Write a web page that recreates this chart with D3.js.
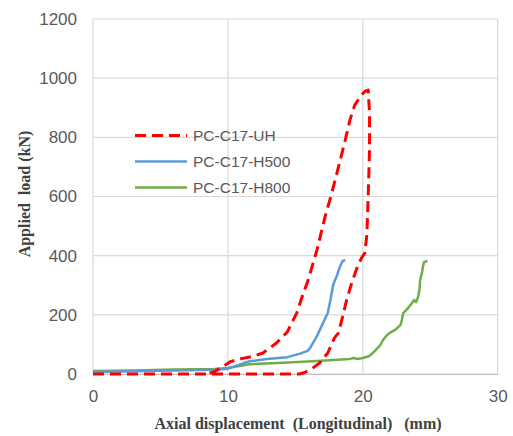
<!DOCTYPE html>
<html><head><meta charset="utf-8">
<script src="https://cdn.jsdelivr.net/npm/d3@7"></script>
<style>html,body{margin:0;padding:0;background:#fff}</style>
</head><body>
<svg id="c" width="513" height="436"></svg>
<script>
const xTicks = [0, 10, 20, 30];
const yTicks = [0, 200, 400, 600, 800, 1000, 1200];
const seriesNames = ["PC-C17-UH", "PC-C17-H500", "PC-C17-H800"];

const uhDisp = [0, 4, 8, 12, 15.3, 15.7, 16.1, 16.8, 17.4, 17.9, 18.2, 18.5, 18.8, 19.2, 19.6, 19.9, 20.15, 20.3, 20.4, 20.5, 20.5, 20.4, 20.15, 19.9, 19.4, 19.05, 18.7, 18.2, 17.7, 17.2, 16.6, 16.1, 15.9, 15.6, 15.1, 14.4, 13.6, 12.6, 11.9, 11.0, 10.2, 9.6, 9.0, 8.6];
const uhLoad = [0, 0, 0, 0, 0, 5, 14, 37, 71, 122, 139, 193, 250, 311, 362, 392, 409, 470, 600, 760, 882, 960, 955, 943, 909, 859, 791, 700, 612, 531, 419, 341, 311, 274, 206, 142, 105, 71, 60, 52, 42, 24, 8, 2];

const h500Disp = [0, 3, 6, 9, 10, 11.6, 12.9, 14.4, 15.3, 15.9, 16.1, 16.6, 17.05, 17.4, 17.6, 17.8, 18.1, 18.3, 18.5, 18.7];
const h500Load = [7, 9, 12, 14, 18, 43, 51, 57, 68, 78, 88, 128, 172, 206, 250, 301, 335, 362, 382, 385];

const h800Disp = [0, 3, 6, 9, 10, 11.6, 14.1, 16.6, 19.05, 19.3, 19.6, 20.0, 20.5, 20.9, 21.3, 21.5, 21.8, 22.0, 22.4, 22.8, 22.9, 23.0, 23.35, 23.65, 23.8, 23.95, 24.1, 24.2, 24.25, 24.4, 24.45, 24.55, 24.8];
const h800Load = [10, 12, 15, 17, 20, 33, 38, 44, 51, 54, 51, 54, 61, 78, 98, 115, 132, 139, 149, 166, 183, 206, 223, 240, 250, 243, 260, 284, 318, 345, 362, 379, 382];

const svg = d3.select("#c");
const x = d3.scaleLinear().domain([0, 30]).range([93, 497.7]);
const y = d3.scaleLinear().domain([0, 1200]).range([374, 19]);
const grid = "#d9d9d9", txt = "#595959";

// grid
svg.append("g").selectAll("line").data(yTicks).join("line")
  .attr("x1", x(0)).attr("x2", x(30)).attr("y1", d => y(d)).attr("y2", d => y(d))
  .attr("stroke", grid).attr("stroke-width", 1.2);
svg.append("g").selectAll("line").data(xTicks).join("line")
  .attr("y1", y(0)).attr("y2", y(1200)).attr("x1", d => x(d)).attr("x2", d => x(d))
  .attr("stroke", grid).attr("stroke-width", 1.2);

// axes labels via d3 axes
const yAxis = svg.append("g").attr("transform", `translate(${x(0)},0)`)
  .call(d3.axisLeft(y).tickValues(yTicks).tickFormat(d3.format("d")).tickSize(0).tickPadding(16));
yAxis.select(".domain").remove();
yAxis.selectAll("text").attr("font-family", "Liberation Sans, Arial, sans-serif")
  .attr("font-size", 17).attr("fill", txt);

const xAxis = svg.append("g").attr("transform", `translate(0,${y(0)})`)
  .call(d3.axisBottom(x).tickValues(xTicks).tickFormat(d3.format("d")).tickSize(0).tickPadding(16));
xAxis.select(".domain").attr("stroke", "#bfbfbf").attr("stroke-width", 1.2);
xAxis.selectAll("text").attr("font-family", "Liberation Sans, Arial, sans-serif")
  .attr("font-size", 17).attr("fill", txt);

// series
const mk = (xs, ys) => xs.map((d, i) => [d, ys[i]]);
const lineLin = d3.line().x(d => x(d[0])).y(d => y(d[1]));

svg.append("path").datum(mk(h800Disp, h800Load)).attr("d", lineLin)
  .attr("fill", "none").attr("stroke", "#70AD47").attr("stroke-width", 2.5).attr("stroke-linejoin", "round");
svg.append("path").datum(mk(h500Disp, h500Load)).attr("d", lineLin)
  .attr("fill", "none").attr("stroke", "#5B9BD5").attr("stroke-width", 2.5).attr("stroke-linejoin", "round");
svg.append("path").datum(mk(uhDisp, uhLoad)).attr("d", lineLin)
  .attr("fill", "none").attr("stroke", "#FF0000").attr("stroke-width", 3).attr("stroke-dasharray", "11,6")
  .attr("stroke-linejoin", "round");

// legend
const colors = ["#FF0000", "#5B9BD5", "#70AD47"];
const legY = [135.5, 161.5, 187.5];
const leg = svg.append("g");
seriesNames.forEach((n, i) => {
  leg.append("line").attr("x1", 135).attr("x2", 187).attr("y1", legY[i]).attr("y2", legY[i])
    .attr("stroke", colors[i]).attr("stroke-width", i === 0 ? 3 : 2.5)
    .attr("stroke-dasharray", i === 0 ? "11,6" : null);
  leg.append("text").attr("x", 193).attr("y", legY[i]).attr("dy", "0.36em")
    .attr("font-family", "Liberation Sans, Arial, sans-serif").attr("font-size", 15.5)
    .attr("fill", txt).text(n);
});

// axis titles
svg.append("text").attr("x", 298).attr("y", 429).attr("text-anchor", "middle")
  .attr("font-family", "Liberation Serif, Times New Roman, serif").attr("font-weight", "bold")
  .attr("font-size", 16).attr("fill", "#404040").attr("xml:space", "preserve")
  .text("Axial displacement  (Longitudinal)   (mm)");
svg.append("text").attr("transform", "translate(30,194) rotate(-90)").attr("text-anchor", "middle")
  .attr("font-family", "Liberation Serif, Times New Roman, serif").attr("font-weight", "bold")
  .attr("font-size", 16).attr("fill", "#404040").attr("xml:space", "preserve")
  .text("Applied  load (kN)");
</script>
</body></html>
